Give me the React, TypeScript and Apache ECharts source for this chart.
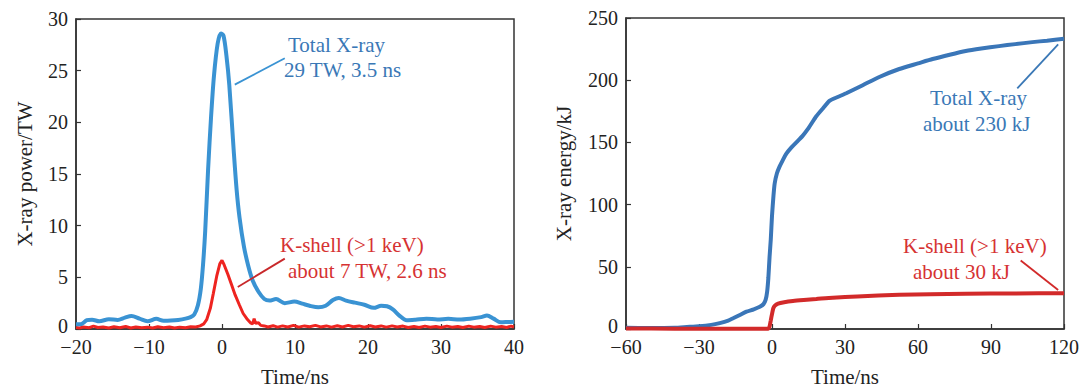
import React, { useEffect, useRef } from "react";
import * as echarts from "echarts";

// ---------- Data ----------
// Left panel: X-ray power (TW) vs time (ns)
const totalPower: [number, number][] = [
  [-20, 0.45], [-19.4, 0.45], [-18.5, 0.85], [-17.8, 0.9], [-16.8, 0.75], [-15.5, 0.95],
  [-14.3, 0.88], [-13.3, 1.1], [-12.4, 1.25], [-11.3, 1.0], [-10.2, 0.75], [-9.0, 0.98],
  [-8.0, 0.8], [-7, 0.82], [-6, 0.88], [-5, 1.0], [-4.3, 1.15], [-3.8, 1.4], [-3.3, 2.3],
  [-2.9, 3.9], [-2.6, 6.2], [-2.3, 9.5], [-1.9, 15.5], [-1.5, 20.5], [-1.1, 24.5],
  [-0.6, 27.6], [-0.15, 28.6], [0.2, 28.4], [0.6, 26.5], [1.0, 23.6], [1.6, 17.3],
  [2.0, 13.5], [2.4, 10.8], [3.0, 8.0], [3.6, 6.1], [4.2, 4.7], [5.0, 3.6], [5.8, 2.9],
  [6.5, 2.75], [7.4, 2.9], [8.6, 2.5], [9.9, 2.65], [11.0, 2.45], [12, 2.25], [13.2, 2.1],
  [14.2, 2.25], [15.2, 2.8], [16.0, 3.0], [17, 2.75], [18.2, 2.55], [19.5, 2.35],
  [20.8, 2.05], [21.8, 2.25], [22.6, 2.2], [23.4, 1.9], [24.3, 1.3], [25.3, 0.85],
  [26.5, 0.9], [28, 1.0], [29.5, 0.92], [31, 0.98], [32.5, 0.92], [34, 1.0], [35.5, 1.15],
  [36.3, 1.3], [37.2, 1.0], [38.2, 0.65], [39.2, 0.68], [40, 0.7],
];

const kshellPower: [number, number][] = [
  [-20, 0.15], [-19.5, 0.1], [-19, 0.2], [-18.2, 0.12], [-17.6, 0.28], [-17, 0.15],
  [-16.3, 0.2], [-15.5, 0.1], [-14.8, 0.22], [-14, 0.12], [-13.2, 0.25], [-12.5, 0.1],
  [-11.8, 0.2], [-11, 0.12], [-10.2, 0.18], [-9.5, 0.1], [-8.8, 0.22], [-8, 0.12],
  [-7.2, 0.2], [-6.5, 0.1], [-5.8, 0.18], [-5, 0.12], [-4.3, 0.22], [-3.6, 0.2],
  [-3, 0.3], [-2.5, 0.5], [-2.1, 0.9], [-1.6, 2.0], [-1.2, 3.4], [-0.7, 5.2], [-0.3, 6.3],
  [0, 6.65], [0.3, 6.2], [0.8, 5.3], [1.3, 4.3], [1.8, 3.3], [2.4, 2.3], [2.9, 1.5],
  [3.4, 1.0], [3.9, 0.6], [4.2, 0.5], [4.4, 1.0], [4.6, 0.55], [5.0, 0.6], [5.3, 0.35],
  [5.8, 0.3], [6.3, 0.2], [7, 0.32], [7.6, 0.18], [8.3, 0.3], [9, 0.2], [9.8, 0.35],
  [10.5, 0.18], [11.3, 0.3], [12, 0.22], [12.8, 0.35], [13.5, 0.2], [14.3, 0.3],
  [15, 0.18], [15.8, 0.32], [16.5, 0.2], [17.3, 0.35], [18, 0.22], [18.8, 0.3],
  [19.5, 0.18], [20.3, 0.32], [21, 0.2], [21.8, 0.3], [22.5, 0.18], [23.3, 0.3],
  [24, 0.2], [24.8, 0.28], [25.5, 0.15], [26.3, 0.25], [27, 0.15], [27.8, 0.28],
  [28.5, 0.18], [29.3, 0.25], [30, 0.15], [30.8, 0.28], [31.5, 0.18], [32.3, 0.25],
  [33, 0.15], [33.8, 0.28], [34.5, 0.18], [35.3, 0.25], [36, 0.15], [36.8, 0.28],
  [37.5, 0.18], [38.3, 0.25], [39, 0.15], [39.6, 0.28], [40, 0.2],
];

// Right panel: X-ray energy (kJ) vs time (ns)
const totalEnergy: [number, number][] = [
  [-60, 1.0], [-50, 0.8], [-40, 1.0], [-35, 1.6], [-30, 2.2], [-25, 3.3], [-21.5, 4.7],
  [-18, 6.7], [-16, 8.6], [-13, 11.5], [-10.5, 13.9], [-7.5, 15.8], [-5, 17.8],
  [-3.5, 20], [-2.6, 23.6], [-2, 30], [-1.5, 41], [-1.0, 58], [-0.5, 72], [0, 91],
  [0.6, 107], [1.1, 117], [2, 125], [3.1, 130.5], [4.5, 136], [5.9, 141], [8, 146],
  [10, 150], [12.5, 155], [14.7, 160.6], [16.5, 166], [18.2, 171], [21, 177.5],
  [23.6, 183.4], [27, 186.5], [30.5, 189.5], [37.3, 196], [44.1, 202.6], [52.3, 209],
  [60, 213.5], [66, 217], [73, 220.5], [79.6, 223.5], [86, 225.5], [93.3, 227.4],
  [100, 229], [107, 230.6], [113, 231.8], [120, 233.3],
];

const kshellEnergy: [number, number][] = [
  [-60, 0.5], [-40, 0.3], [-20, 0.3], [-5, 0.3], [-1.5, 0.3], [-1.0, 2], [-0.5, 7],
  [0, 12], [0.5, 16.5], [1.2, 18.8], [2.5, 20.4], [5, 21.5], [8.6, 22.5], [13, 23.3],
  [18.2, 24.1], [25, 25.2], [35, 26.2], [52.3, 27.5], [65, 27.9], [79.6, 28.3],
  [100, 28.6], [120, 28.8],
];

// Leader lines (data coordinates)
const leftTotalLeader: [number, number][] = [[1.75, 23.65], [8.6, 26.2]];
const leftKLeader: [number, number][] = [[2.16, 4.07], [8.6, 6.81]];
const rightTotalLeader: [number, number][] = [[100.8, 193.4], [117.6, 228.8]];
const rightKLeader: [number, number][] = [[102.2, 55.0], [117.6, 31.4]];

const SERIF = "Liberation Serif";
const AX = "#333333";

const fmt = (v: number) => (v < 0 ? "\u2212" + Math.abs(v) : String(v));
const fmtY = (v: number) => (v === 0 ? "{z|0}" : fmt(v));

function xAxisCfg(gridIndex: number, min: number, max: number, interval: number) {
  return {
    type: "value",
    gridIndex,
    min,
    max,
    interval,
    name: "Time/ns",
    nameLocation: "middle",
    nameGap: 37,
    nameTextStyle: { fontFamily: SERIF, fontSize: 21, color: "#222" },
    axisLine: { show: true, onZero: false, lineStyle: { color: AX, width: 1.5 } },
    axisTick: { show: true, inside: true, length: 5, lineStyle: { color: AX, width: 1.2 } },
    axisLabel: { fontFamily: SERIF, fontSize: 20, color: "#222", margin: 8, formatter: fmt },
    splitLine: { show: false },
  };
}

function yAxisCfg(gridIndex: number, max: number, interval: number, name: string, gap: number) {
  return {
    type: "value",
    gridIndex,
    min: 0,
    max,
    interval,
    name,
    nameLocation: "middle",
    nameGap: gap,
    nameTextStyle: { fontFamily: SERIF, fontSize: 21, color: "#222" },
    axisLine: { show: true, onZero: false, lineStyle: { color: AX, width: 1.5 } },
    axisTick: { show: true, inside: true, length: 5, lineStyle: { color: AX, width: 1.2 } },
    axisLabel: {
      fontFamily: SERIF,
      fontSize: 20,
      color: "#222",
      margin: 8,
      formatter: fmtY,
      rich: {
        z: {
          fontFamily: SERIF,
          fontSize: 20,
          color: "#222",
          lineHeight: 18,
          padding: [0, 0, 6, 0],
        },
      },
    },
    splitLine: { show: false },
  };
}

function leader(pts: [number, number][], color: string) {
  return {
    silent: true,
    symbol: ["none", "none"],
    label: { show: false },
    lineStyle: { color, width: 1.8, type: "solid" },
    data: [[{ coord: pts[0] }, { coord: pts[1] }]],
  };
}

function label(text: string, x: number, y: number, color: string) {
  return {
    type: "text",
    x,
    y,
    style: {
      text,
      fill: color,
      fontFamily: SERIF,
      fontSize: 21,
      align: "left",
      verticalAlign: "middle",
    },
  };
}

export default function App() {
  const ref = useRef<HTMLDivElement>(null);
  useEffect(() => {
    if (!ref.current) return;
    const chart = echarts.init(ref.current, undefined, { renderer: "svg" });
    const blueL = "#3a93d3";
    const redL = "#ee2420";
    const blueR = "#3a76b8";
    const redR = "#d22a2a";
    const blueT = "#3a78b6";
    const redT = "#d63232";
    chart.setOption({
      animation: false,
      backgroundColor: "#ffffff",
      grid: [
        { left: 76, right: 570, top: 19, bottom: 56, show: true, borderColor: AX, borderWidth: 1.5 },
        { left: 626, right: 20, top: 18, bottom: 56, show: true, borderColor: AX, borderWidth: 1.5 },
      ],
      xAxis: [xAxisCfg(0, -20, 40, 10), xAxisCfg(1, -60, 120, 30)],
      yAxis: [
        yAxisCfg(0, 30, 5, "X-ray power/TW", 41),
        yAxisCfg(1, 250, 50, "X-ray energy/kJ", 52),
      ],
      series: [
        {
          name: "K-shell power",
          type: "line",
          xAxisIndex: 0,
          yAxisIndex: 0,
          data: kshellPower,
          showSymbol: false,
          lineStyle: { color: redL, width: 3 },
          itemStyle: { color: redL },
          markLine: leader(leftKLeader, "#c8282a"),
        },
        {
          name: "Total power",
          type: "line",
          xAxisIndex: 0,
          yAxisIndex: 0,
          data: totalPower,
          showSymbol: false,
          smooth: 0.3,
          lineStyle: { color: blueL, width: 4 },
          itemStyle: { color: blueL },
          markLine: leader(leftTotalLeader, blueL),
        },
        {
          name: "Total energy",
          type: "line",
          xAxisIndex: 1,
          yAxisIndex: 1,
          data: totalEnergy,
          showSymbol: false,
          smooth: 0.2,
          lineStyle: { color: blueR, width: 4 },
          itemStyle: { color: blueR },
          markLine: leader(rightTotalLeader, blueT),
        },
        {
          name: "K-shell energy",
          type: "line",
          xAxisIndex: 1,
          yAxisIndex: 1,
          data: kshellEnergy,
          showSymbol: false,
          smooth: 0.2,
          lineStyle: { color: redR, width: 4 },
          itemStyle: { color: redR },
          markLine: leader(rightKLeader, redR),
        },
      ],
      graphic: [
        label("Total X-ray", 288, 45, blueT),
        label("29 TW, 3.5 ns", 284, 70, blueT),
        label("K-shell (>1 keV)", 280, 245, redT),
        label("about 7 TW, 2.6 ns", 288, 271, redT),
        label("Total X-ray", 930, 98, blueT),
        label("about 230 kJ", 923, 124, blueT),
        label("K-shell (>1 keV)", 903, 246, redT),
        label("about 30 kJ", 913, 272, redT),
      ],
    });
    return () => chart.dispose();
  }, []);
  return (
    <div
      ref={ref}
      style={{ position: "fixed", left: 0, top: 0, width: 1084, height: 392, background: "#fff" }}
    />
  );
}
